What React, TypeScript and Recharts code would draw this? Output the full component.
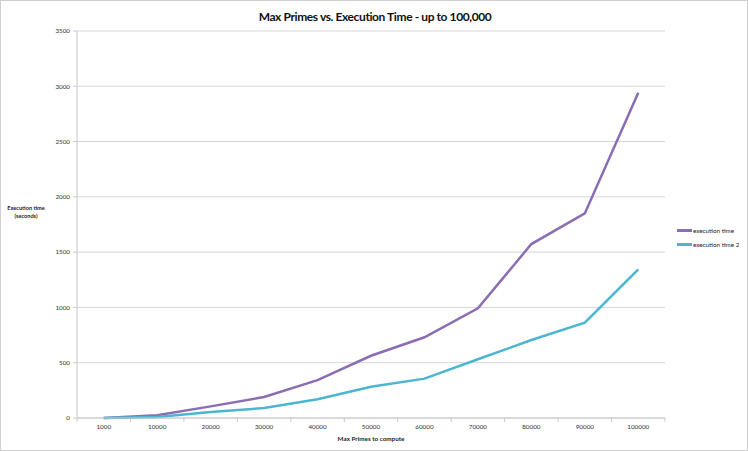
import React from 'react';
import { LineChart, Line, XAxis, YAxis, CartesianGrid, Legend, Label } from 'recharts';

const categories = ['1000', '10000', '20000', '30000', '40000', '50000', '60000', '70000', '80000', '90000', '100000'];
const executionTime = [0, 25, 105, 190, 342, 563, 730, 992, 1573, 1850, 2942];
const executionTime2 = [0, 8, 55, 90, 170, 283, 356, 531, 705, 862, 1344];
const yTicks = [0, 500, 1000, 1500, 2000, 2500, 3000, 3500];

const data = categories.map((c, i) => ({ name: c, t1: executionTime[i], t2: executionTime2[i] }));

const W = 748;
const H = 451;
const M = { top: 31, right: 83, bottom: 0, left: 0 };
const YW = 77;
const XH = 33;
const PLOT_W = W - YW - M.right;
const BAND = PLOT_W / categories.length;
const AXIS_Y = H - XH;
const FONT = 'Lato, "Open Sans", sans-serif';
const PURPLE = '#8a6db3';
const CYAN = '#4cb6d2';

const XTick = (props: any) => {
  const { x, payload, index } = props;
  const left = x - BAND / 2;
  const right = x + BAND / 2;
  return (
    <g>
      <line x1={left} y1={AXIS_Y} x2={left} y2={AXIS_Y + 4} stroke="#c8c8c8" strokeWidth={1} />
      {index === categories.length - 1 && (
        <line x1={right} y1={AXIS_Y} x2={right} y2={AXIS_Y + 4} stroke="#c8c8c8" strokeWidth={1} />
      )}
      <text x={x} y={AXIS_Y + 11} textAnchor="middle" fontSize={6.3} fill="#333" fontFamily={FONT}>
        {payload.value}
      </text>
    </g>
  );
};

const YLabel = () => (
  <g>
    <text x={26} y={209.5} textAnchor="middle" fontSize={5.6} fontWeight="bold" fill="#222" fontFamily={FONT}>
      Execution time
    </text>
    <text x={26} y={218} textAnchor="middle" fontSize={5.6} fontWeight="bold" fill="#222" fontFamily={FONT}>
      (seconds)
    </text>
  </g>
);

const LegendContent = () => (
  <div style={{ fontFamily: FONT, fontSize: 6.3, color: '#222', whiteSpace: 'nowrap' }}>
    {[
      { label: 'execution time', color: PURPLE },
      { label: 'execution time 2', color: CYAN },
    ].map((it) => (
      <div key={it.label} style={{ display: 'flex', alignItems: 'center', height: 14 }}>
        <div style={{ width: 15, height: 3, background: it.color, marginRight: 1 }} />
        <span>{it.label}</span>
      </div>
    ))}
  </div>
);

export default function App() {
  return (
    <div style={{ position: 'absolute', left: 0, top: 0, width: W, height: H, boxSizing: 'border-box', border: '1px solid #cfcfcf', background: '#fff' }}>
      <div style={{ position: 'absolute', left: 0, top: 8, width: W, textAlign: 'center', fontFamily: FONT, fontWeight: 'bold', fontSize: 12, letterSpacing: -0.4, color: '#111' }}>
        Max Primes vs. Execution Time - up to 100,000
      </div>
      <div style={{ position: 'absolute', left: -1, top: -1 }}>
        <LineChart width={W} height={H} data={data} margin={M}>
          <CartesianGrid vertical={false} stroke="#d6d6d6" strokeWidth={1} />
          <XAxis
            dataKey="name"
            height={XH}
            interval={0}
            padding={{ left: BAND / 2, right: BAND / 2 }}
            tickLine={false}
            axisLine={{ stroke: '#c8c8c8' }}
            tick={<XTick />}
          >
            <Label value="Max Primes to compute" position="insideBottom" offset={10} fontSize={6.3} fontWeight="bold" fill="#222" fontFamily={FONT} />
          </XAxis>
          <YAxis
            width={YW}
            domain={[0, 3500]}
            ticks={yTicks}
            interval={0}
            tickSize={4}
            tickMargin={3}
            tickLine={{ stroke: '#c8c8c8' }}
            axisLine={{ stroke: '#c8c8c8' }}
            tick={{ fontSize: 6.3, fill: '#333', fontFamily: FONT }}
          >
            <Label content={<YLabel />} />
          </YAxis>
          <Legend
            layout="vertical"
            align="center"
            verticalAlign="middle"
            content={<LegendContent />}
            wrapperStyle={{ left: 677, top: 223, width: 70 }}
          />
          <Line type="linear" dataKey="t1" name="execution time" stroke={PURPLE} strokeWidth={2.5} dot={false} isAnimationActive={false} />
          <Line type="linear" dataKey="t2" name="execution time 2" stroke={CYAN} strokeWidth={2.5} dot={false} isAnimationActive={false} />
        </LineChart>
      </div>
    </div>
  );
}
